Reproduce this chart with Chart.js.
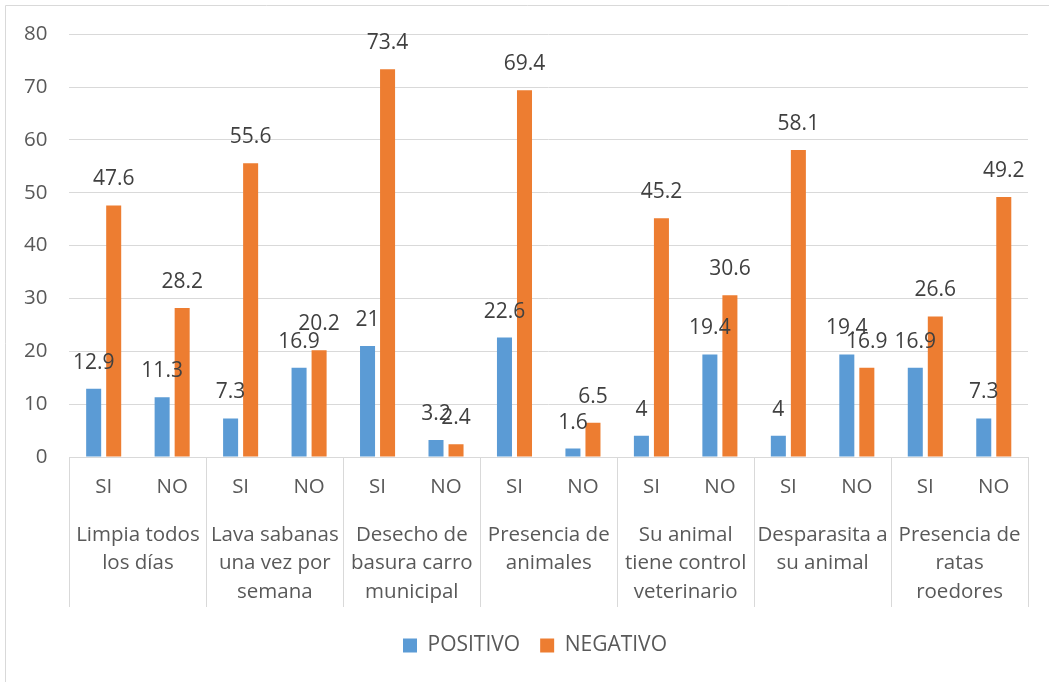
<!DOCTYPE html>
<html lang="es">
<head>
<meta charset="UTF-8">
<title>POSITIVO / NEGATIVO</title>
<script src="https://cdn.jsdelivr.net/npm/chart.js"></script>
<style>
  html, body { margin: 0; padding: 0; background: #fff; }
  #wrap { width: 1049px; height: 682px; position: relative; }
</style>
</head>
<body>
<div id="wrap"><canvas id="chart"></canvas></div>
<script>
const categories = ['SI', 'NO', 'SI', 'NO', 'SI', 'NO', 'SI', 'NO', 'SI', 'NO', 'SI', 'NO', 'SI', 'NO'];
const groups = [
  ['Limpia todos', 'los días'],
  ['Lava sabanas', 'una vez por', 'semana'],
  ['Desecho de', 'basura carro', 'municipal'],
  ['Presencia de', 'animales'],
  ['Su animal', 'tiene control', 'veterinario'],
  ['Desparasita a', 'su animal'],
  ['Presencia de', 'ratas', 'roedores']
];
const positivo = [12.9, 11.3, 7.3, 16.9, 21, 3.2, 22.6, 1.6, 4, 19.4, 4, 19.4, 16.9, 7.3];
const negativo = [47.6, 28.2, 55.6, 20.2, 73.4, 2.4, 69.4, 6.5, 45.2, 30.6, 58.1, 16.9, 26.6, 49.2];

const FONT = '"Open Sans", "DejaVu Sans", sans-serif';
const TEXT = '#595959';
const LINE = '#d9d9d9';

// value labels above each bar
const barLabels = {
  id: 'barLabels',
  afterDatasetsDraw(chart) {
    const ctx = chart.ctx;
    ctx.save();
    ctx.font = '21px ' + FONT;
    ctx.fillStyle = '#404040';
    ctx.textAlign = 'center';
    ctx.textBaseline = 'middle';
    chart.data.datasets.forEach((ds, i) => {
      chart.getDatasetMeta(i).data.forEach((bar, j) => {
        ctx.fillText(String(ds.data[j]), bar.x, bar.y - 26);
      });
    });
    ctx.restore();
  }
};

// legend sits a little right of centre in the original
const legendShift = {
  id: 'legendShift',
  afterLayout(chart) {
    if (chart.legend) {
      chart.legend.left += 20;
      chart.legend.right += 20;
    }
  }
};

// two-level category axis + frame
const groupAxis = {
  id: 'groupAxis',
  afterDraw(chart) {
    const ctx = chart.ctx;
    const x = chart.scales.x;
    const top = chart.chartArea.bottom;
    const bottom = top + 150;
    ctx.save();
    ctx.strokeStyle = LINE;
    ctx.lineWidth = 1;
    // frame
    ctx.beginPath();
    ctx.moveTo(5.5, chart.height);
    ctx.lineTo(5.5, 5.5);
    ctx.lineTo(chart.width, 5.5);
    ctx.stroke();

    const step = x.getPixelForValue(1) - x.getPixelForValue(0);
    ctx.fillStyle = TEXT;
    ctx.textAlign = 'center';
    ctx.textBaseline = 'middle';
    ctx.font = '20.5px ' + FONT;
    categories.forEach((c, i) => {
      ctx.fillText(c, x.getPixelForValue(i), top + 30);
    });
    for (let g = 0; g <= groups.length; g++) {
      const px = Math.round(x.getPixelForValue(g * 2) - step / 2) + 0.5;
      ctx.beginPath();
      ctx.moveTo(px, top);
      ctx.lineTo(px, bottom);
      ctx.stroke();
    }
    groups.forEach((lines, g) => {
      const cx = (x.getPixelForValue(g * 2) + x.getPixelForValue(g * 2 + 1)) / 2;
      lines.forEach((t, k) => {
        ctx.fillText(t, cx, top + 78 + k * 28.5);
      });
    });
    ctx.restore();
  }
};

new Chart(document.getElementById('chart'), {
  type: 'bar',
  data: {
    labels: categories,
    datasets: [
      { label: 'POSITIVO', data: positivo, backgroundColor: '#5B9BD5',
        categoryPercentage: 0.585, barPercentage: 0.75 },
      { label: 'NEGATIVO', data: negativo, backgroundColor: '#ED7D31',
        categoryPercentage: 0.585, barPercentage: 0.75 }
    ]
  },
  options: {
    responsive: true,
    maintainAspectRatio: false,
    animation: false,
    layout: { padding: { left: 2, right: 21, top: 24, bottom: 16 } },
    plugins: {
      legend: {
        position: 'bottom',
        labels: {
          font: { family: FONT, size: 21 },
          color: TEXT,
          boxWidth: 14,
          boxHeight: 14,
          padding: 20
        }
      },
      tooltip: { enabled: false }
    },
    scales: {
      x: {
        grid: { display: false },
        border: { display: true, color: LINE, width: 1 },
        ticks: { display: false },
        afterFit(scale) { scale.height = 158; }
      },
      y: {
        min: 0,
        max: 80,
        ticks: { stepSize: 10, color: TEXT, padding: 22, font: { family: FONT, size: 20.5 } },
        grid: { color: LINE, lineWidth: 1, drawTicks: false },
        border: { display: false }
      }
    }
  },
  plugins: [barLabels, legendShift, groupAxis]
});
</script>
</body>
</html>
